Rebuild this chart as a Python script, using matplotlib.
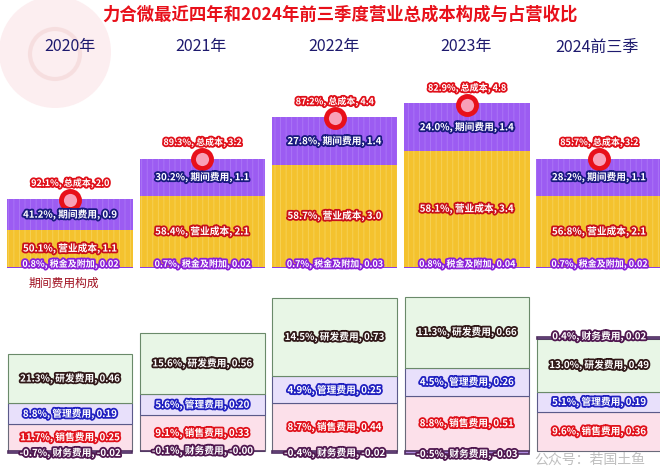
import matplotlib.pyplot as plt
import matplotlib.patheffects as pe
from matplotlib.patches import Circle

plt.rcParams['font.family'] = ['Noto Sans CJK SC', 'DejaVu Sans']
plt.rcParams['hatch.linewidth'] = 0.6

# 数据（亿元，占营收比%）
years = ['2020年', '2021年', '2022年', '2023年', '2024前三季']
tax = [0.02, 0.02, 0.03, 0.04, 0.02]
tax_pct = [0.8, 0.7, 0.7, 0.8, 0.7]
cost = [1.1, 2.1, 3.0, 3.4, 2.1]
cost_pct = [50.1, 58.4, 58.7, 58.1, 56.8]
period = [0.9, 1.1, 1.4, 1.4, 1.1]
period_pct = [41.2, 30.2, 27.8, 24.0, 28.2]
total = [2.0, 3.2, 4.4, 4.8, 3.2]
total_pct = [92.1, 89.3, 87.2, 82.9, 85.7]

sales = [0.25, 0.33, 0.44, 0.51, 0.36]
sales_pct = [11.7, 9.1, 8.7, 8.8, 9.6]
mgmt = [0.19, 0.20, 0.25, 0.26, 0.19]
mgmt_pct = [8.8, 5.6, 4.9, 4.5, 5.1]
rd = [0.46, 0.56, 0.73, 0.66, 0.49]
rd_pct = [21.3, 15.6, 14.5, 11.3, 13.0]
fin = [-0.02, -0.00, -0.02, -0.03, 0.02]
fin_pct = [-0.7, -0.1, -0.4, -0.5, 0.4]

W, H = 660, 474
fig = plt.figure(figsize=(W / 100, H / 100), dpi=100)
fig.patch.set_facecolor('white')

# 左上角淡色水印圆
bg = fig.add_axes([0, 0, 1, 1])
bg.set_xlim(0, W)
bg.set_ylim(H, 0)
bg.axis('off')
bg.add_patch(Circle((55, 52), 56, color='#fbe3e6', alpha=0.6, lw=0))
bg.add_patch(Circle((55, 54), 25, fill=False, ec='#f2d0d0', lw=3, alpha=0.5))


def label(ax, x, y, s, ec, size=7):
    ax.text(x, y, s, ha='center', va='center', color='white', fontsize=size,
            fontweight='bold', zorder=10,
            path_effects=[pe.withStroke(linewidth=2.6, foreground=ec)])


x = list(range(len(years)))
xlim = (-0.53, 4.46)

# 上半部分：营业总成本构成
ax1 = fig.add_axes([0, 189 / H, 1, 272 / H])
ax1.set_xlim(*xlim)
ax1.set_ylim(-0.5, 7.5)
ax1.axis('off')
bw = 0.95
b1 = tax
b2 = [a + b for a, b in zip(tax, cost)]
ax1.bar(x, tax, bw, color='#8a3fe6', lw=0)
ax1.bar(x, cost, bw, bottom=b1, color='#f4c22e', lw=0)
ax1.bar(x, cost, bw, bottom=b1, color='none', ec='#f7d35a', hatch='|||', lw=0)
ax1.bar(x, period, bw, bottom=b2, color='#9c5cf2', lw=0)
ax1.bar(x, period, bw, bottom=b2, color='none', ec='#ac78f6', hatch='|||', lw=0)
ax1.plot(x, total, 'o', ms=13, mfc='#f8a0b8', mec='#e8101a', mew=3.5, zorder=8)

for i in x:
    label(ax1, i, 0.12, f'{tax_pct[i]}%, 税金及附加, {tax[i]:.2f}', '#8a20d8', 6.5)
    label(ax1, i, b1[i] + cost[i] / 2, f'{cost_pct[i]}%, 营业成本, {cost[i]:.1f}', '#c8101a')
    label(ax1, i, b2[i] + period[i] / 2, f'{period_pct[i]}%, 期间费用, {period[i]:.1f}', '#1a1a80')
    label(ax1, i, total[i] + 0.5, f'{total_pct[i]}%, 总成本, {total[i]:.1f}', '#e0101a', 6.5)

# 下半部分：期间费用构成
ax2 = fig.add_axes([0, 1.4 / H, 1, 216 / H])
ax2.set_xlim(*xlim)
ax2.set_ylim(-0.2, 1.8)
ax2.axis('off')
bw2 = 0.94
m1 = sales
m2 = [a + b for a, b in zip(sales, mgmt)]
m3 = [a + b for a, b in zip(m2, rd)]
ax2.bar(x, sales, bw2, color='#fce0ea', ec='#6a6a7a', lw=0.8)
ax2.bar(x, mgmt, bw2, bottom=m1, color='#e8e0fb', ec='#5a5a8a', lw=0.8)
ax2.bar(x, rd, bw2, bottom=m2, color='#e8f6e6', ec='#6a8a6a', lw=0.8)
fin_bottom = [m3[i] if fin[i] > 0 else 0 for i in x]
ax2.bar(x, fin, bw2, bottom=fin_bottom, color='#b08ae0', ec='#503060', lw=1.2)

for i in x:
    label(ax2, i, m1[i] / 2, f'{sales_pct[i]}%, 销售费用, {sales[i]:.2f}', '#e0101a')
    label(ax2, i, m1[i] + mgmt[i] / 2, f'{mgmt_pct[i]}%, 管理费用, {mgmt[i]:.2f}', '#2020c0')
    label(ax2, i, m2[i] + rd[i] / 2, f'{rd_pct[i]}%, 研发费用, {rd[i]:.2f}', '#301818')
    fy = fin_bottom[i] + fin[i]
    label(ax2, i, fy, f'{fin_pct[i]}%, 财务费用, {fin[i]:.2f}', '#501850')

# 标题与年份
fig.text(340 / W, 1 - 15 / H, '力合微最近四年和2024年前三季度营业总成本构成与占营收比',
         ha='center', va='center', color='#e8101a', fontsize=12.5, fontweight='bold')
year_x = [70, 201, 334, 466, 597]
for xp, yr in zip(year_x, years):
    fig.text(xp / W, 1 - 47 / H, yr, ha='center', va='center', color='#1e1a6e',
             fontsize=11.5)
fig.text(64 / W, 1 - 283 / H, '期间费用构成', ha='center', va='center', color='#a01020',
         fontsize=8.5)
fig.text(590 / W, 1 - 460 / H, '公众号：若国土鱼', ha='center', va='center', color='#b8b8b8',
         fontsize=10, alpha=0.9)

fig.savefig('out.png', dpi=100)
